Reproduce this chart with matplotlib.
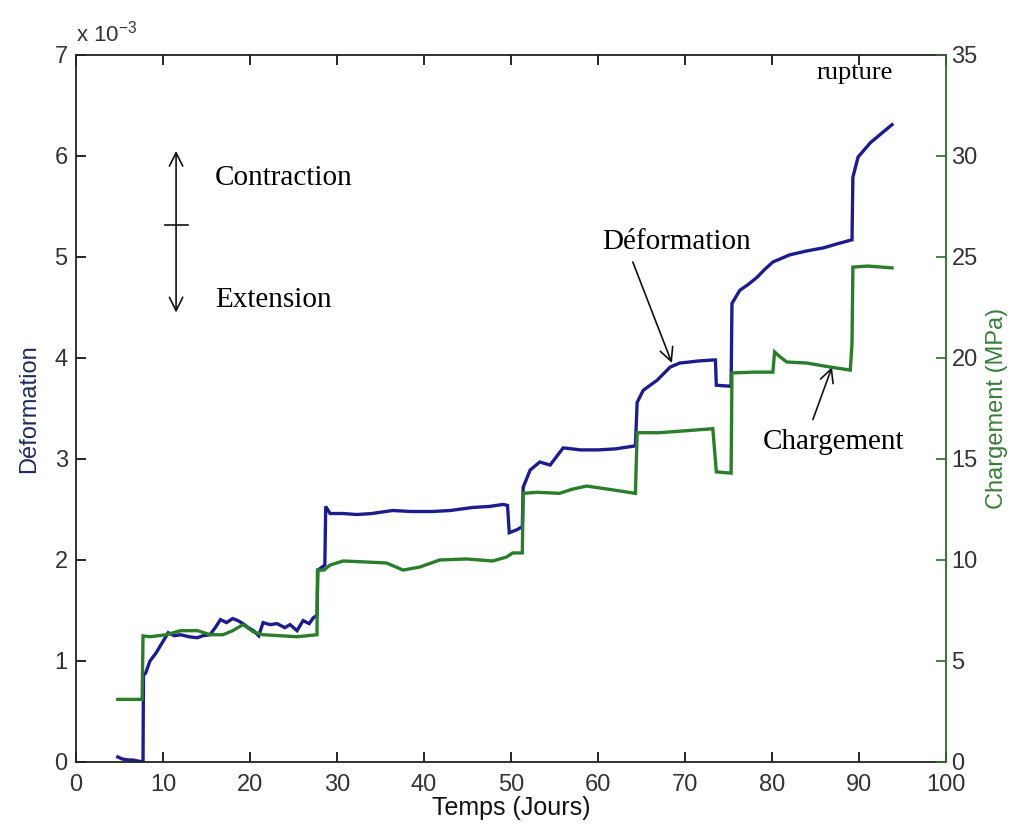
#!/usr/bin/env python3
"""
Deformation and loading versus time (plotyy style chart)
"""

import matplotlib
matplotlib.use('Agg')
import matplotlib.pyplot as plt

# Deformation curve, values in units of 1e-3
def_days = [4.8, 5.3, 6.0, 6.5, 7.7, 7.75, 8.0, 8.5, 9.2, 9.9, 10.6, 11.3, 12.0, 13.0,
            13.9, 14.6, 15.4, 16.0, 16.6, 17.3, 18.0, 18.6, 19.2, 19.8, 20.4, 21.0,
            21.5, 22.3, 23.1, 24.0, 24.6, 25.4, 26.1, 26.8, 27.3, 27.7, 27.8, 28.3,
            28.6, 28.7, 29.2, 30.7, 32.3, 34.0, 36.4, 38.5, 41.0, 43.0, 45.6, 47.5,
            49.1, 49.6, 49.8, 50.7, 51.3, 51.4, 52.2, 53.3, 54.5, 55.2, 56.0, 58.0,
            60.0, 62.0, 64.3, 64.5, 65.2, 66.0, 66.8, 67.6, 68.3, 69.4, 70.5, 71.5,
            73.2, 73.5, 73.6, 75.3, 75.4, 76.3, 77.3, 78.3, 79.2, 80.1, 82.0, 84.0,
            85.9, 87.5, 89.2, 89.3, 89.9, 90.5, 91.3, 92.4, 93.8]
def_vals = [0.05, 0.03, 0.02, 0.02, 0.0, 0.86, 0.88, 1.00, 1.08, 1.18, 1.28, 1.25, 1.26, 1.24,
            1.23, 1.25, 1.26, 1.33, 1.41, 1.38, 1.42, 1.40, 1.37, 1.33, 1.30, 1.25,
            1.38, 1.36, 1.37, 1.33, 1.36, 1.30, 1.40, 1.37, 1.43, 1.45, 1.90, 1.93,
            1.95, 2.53, 2.46, 2.46, 2.45, 2.46, 2.49, 2.48, 2.48, 2.49, 2.52, 2.53,
            2.55, 2.54, 2.27, 2.30, 2.33, 2.72, 2.89, 2.97, 2.94, 3.02, 3.11, 3.09,
            3.09, 3.10, 3.13, 3.56, 3.68, 3.73, 3.78, 3.85, 3.91, 3.95, 3.96, 3.97,
            3.98, 3.98, 3.73, 3.72, 4.54, 4.67, 4.73, 4.80, 4.88, 4.95, 5.02, 5.06,
            5.09, 5.13, 5.17, 5.79, 5.99, 6.05, 6.13, 6.21, 6.31]

# Loading curve (MPa)
load_days = [4.8, 7.6, 7.7, 8.5, 10.4, 12.0, 14.0, 15.4, 16.9, 18.0, 19.2, 20.4, 21.5,
             23.5, 25.4, 27.7, 27.75, 28.5, 29.2, 30.7, 33.4, 35.7, 37.6, 39.5, 41.8,
             44.9, 47.9, 49.5, 50.2, 51.3, 51.4, 53.0, 55.6, 57.0, 58.7, 61.7, 64.3,
             64.5, 67.0, 70.2, 73.2, 73.6, 75.3, 75.4, 78.0, 80.1, 80.3, 80.8, 81.7,
             84.0, 86.7, 89.0, 89.2, 89.3, 91.0, 93.8]
load_vals = [3.1, 3.1, 6.24, 6.2, 6.3, 6.5, 6.5, 6.3, 6.3, 6.5, 6.8, 6.44, 6.3,
             6.25, 6.2, 6.3, 9.5, 9.5, 9.75, 9.95, 9.9, 9.85, 9.5, 9.65, 10.0,
             10.05, 9.95, 10.15, 10.35, 10.35, 13.3, 13.35, 13.3, 13.5, 13.66, 13.47, 13.3,
             16.3, 16.3, 16.4, 16.5, 14.36, 14.3, 19.26, 19.3, 19.3, 20.3, 20.1, 19.8,
             19.75, 19.55, 19.4, 20.7, 24.5, 24.55, 24.46]

x_ticks = [0, 10, 20, 30, 40, 50, 60, 70, 80, 90, 100]
left_ticks = [0, 1, 2, 3, 4, 5, 6, 7]
right_ticks = [0, 5, 10, 15, 20, 25, 30, 35]

BLUE = '#1c1c8c'
GREEN = '#2a7d2a'
INK = '#111111'

plt.rcParams['font.family'] = ['Liberation Sans', 'DejaVu Sans']
plt.rcParams['mathtext.default'] = 'regular'

fig = plt.figure(figsize=(10.22, 8.38), dpi=100)
fig.patch.set_facecolor('white')
ax1 = fig.add_axes([0.0744, 0.0907, 0.8512, 0.8437])
ax2 = ax1.twinx()

ax1.plot(def_days, def_vals, color=BLUE, linewidth=2.4, solid_joinstyle='miter')
ax2.plot(load_days, load_vals, color=GREEN, linewidth=2.4, solid_joinstyle='miter')

ax1.set_xlim(0, 100)
ax1.set_ylim(0, 7)
ax2.set_ylim(0, 35)
ax1.set_xticks(x_ticks)
ax1.set_yticks(left_ticks)
ax2.set_yticks(right_ticks)

tick_kw = dict(direction='in', length=7, width=1.2, labelsize=17, labelcolor='#333333')
ax1.tick_params(axis='x', top=True, pad=9, **tick_kw)
ax1.tick_params(axis='y', pad=6, **tick_kw)
ax2.tick_params(axis='y', colors='#2e6b2e', pad=4, **tick_kw)

for s in ['left', 'bottom', 'top']:
    ax1.spines[s].set_linewidth(1.3)
    ax1.spines[s].set_color('#222222')
ax1.spines['right'].set_visible(False)
ax2.spines['right'].set_color('#2e6b2e')
ax2.spines['right'].set_linewidth(1.3)
for s in ['left', 'bottom', 'top']:
    ax2.spines[s].set_visible(False)

ax1.set_xlabel('Temps (Jours)', fontsize=18, color=INK, labelpad=0)
ax1.set_ylabel('Déformation', fontsize=17, color='#1f2a5c', labelpad=10)
ax2.set_ylabel('Chargement (MPa)', fontsize=17, color='#3a7d3a', labelpad=6)

# scale factor of the left axis, MATLAB style
ax1.text(0.0, 1.012, 'x 10$^{-3}$', transform=ax1.transAxes, fontsize=16,
         color='#333333', ha='left', va='bottom')

serif = ['Liberation Serif', 'DejaVu Serif']
arrow_kw = dict(arrowstyle='->', color=INK, lw=1.2, mutation_scale=24,
                shrinkA=0, shrinkB=0)

# Contraction / extension sign convention
ax1.annotate('', xy=(11.5, 6.05), xytext=(11.5, 5.32), arrowprops=arrow_kw)
ax1.annotate('', xy=(11.5, 4.45), xytext=(11.5, 5.32), arrowprops=arrow_kw)
ax1.plot([10.2, 12.9], [5.32, 5.32], color=INK, linewidth=1.2)
ax1.text(16.0, 5.78, 'Contraction', fontsize=21, family=serif, ha='left', va='center')
ax1.text(16.0, 4.57, 'Extension', fontsize=21, family=serif, ha='left', va='center')

# curve labels
ax1.text(60.5, 5.15, 'Déformation', fontsize=21, family=serif, ha='left', va='center')
ax1.annotate('', xy=(68.5, 3.95), xytext=(64.0, 4.95), arrowprops=arrow_kw)
ax1.text(78.9, 3.17, 'Chargement', fontsize=21, family=serif, ha='left', va='center')
ax1.annotate('', xy=(86.9, 3.91), xytext=(84.7, 3.39), arrowprops=arrow_kw)
ax1.text(89.5, 6.82, 'rupture', fontsize=19, family=serif, ha='center', va='center')

fig.savefig('out.png', dpi=100, facecolor='white')
